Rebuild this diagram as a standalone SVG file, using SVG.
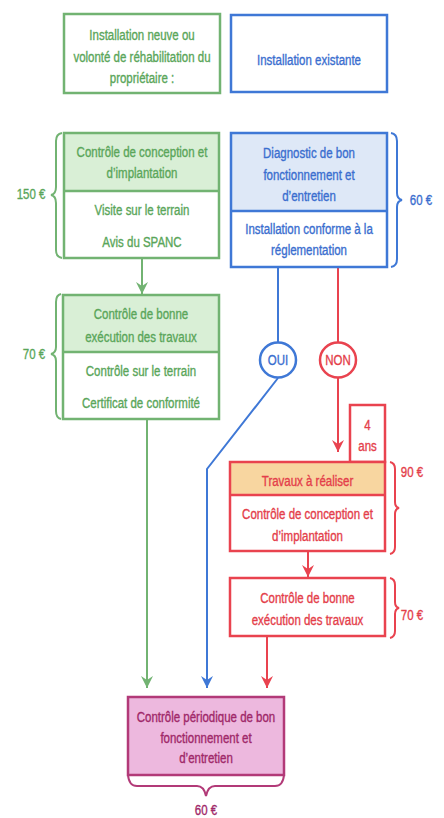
<svg xmlns="http://www.w3.org/2000/svg" width="444" height="818" viewBox="0 0 444 818">
<defs>
<style>
text{font-family:"Liberation Sans",Arial,sans-serif;font-size:14px;text-anchor:middle;stroke-width:0.35}
.g{fill:#5aa65a;stroke:#5aa65a}.b{fill:#3a6ecf;stroke:#3a6ecf}.r{fill:#e43e4a;stroke:#e43e4a}.p{fill:#a02869;stroke:#a02869}
.gs{stroke:#72b372;stroke-width:2.5;fill:none}
.bs{stroke:#3f78d6;stroke-width:2.5;fill:none}
.rs{stroke:#e9434f;stroke-width:2.5;fill:none}
.gl{stroke:#72b372;stroke-width:2;fill:none}
.bl{stroke:#3f78d6;stroke-width:2;fill:none}
.rl{stroke:#e9434f;stroke-width:2;fill:none}
.br{stroke-width:2;fill:none}
</style>
<marker id="ag" viewBox="0 0 12 12" refX="12" refY="6" markerWidth="12" markerHeight="12" markerUnits="userSpaceOnUse" orient="auto"><path d="M0,0 L12,6 L0,12 L4,6 z" fill="#72b372"/></marker>
<marker id="ab" viewBox="0 0 12 12" refX="12" refY="6" markerWidth="12" markerHeight="12" markerUnits="userSpaceOnUse" orient="auto"><path d="M0,0 L12,6 L0,12 L4,6 z" fill="#3f78d6"/></marker>
<marker id="ar" viewBox="0 0 12 12" refX="12" refY="6" markerWidth="12" markerHeight="12" markerUnits="userSpaceOnUse" orient="auto"><path d="M0,0 L12,6 L0,12 L4,6 z" fill="#e9434f"/></marker>
</defs>
<rect width="444" height="818" fill="#ffffff"/>

<g id="connectors">
<path class="gl" d="M142,258 V294" marker-end="url(#ag)"/>
<path class="gl" d="M147,419 V688" marker-end="url(#ag)"/>
<path class="bl" d="M278,267 V342"/>
<path class="bl" d="M278,378 L207,469 V688" marker-end="url(#ab)"/>
<path class="rl" d="M338,267 V342"/>
<path class="rl" d="M338,378 V452" marker-end="url(#ar)"/>
<path class="rl" d="M308,551 V577" marker-end="url(#ar)"/>
<path class="rl" d="M267,636 V688" marker-end="url(#ar)"/>
</g>

<g id="n-neuve">
<rect x="64" y="14" width="156" height="79" fill="#dbefd8" class="gs"/>
<g transform="translate(142,0) scale(0.82,1)">
<text class="g" x="0" y="40">Installation neuve ou</text>
<text class="g" x="0" y="62">volonté de réhabilitation du</text>
<text class="g" x="0" y="83">propriétaire :</text>
</g>
</g>

<g id="n-existante">
<rect x="231" y="15" width="156" height="77" fill="#dee8f7" class="bs"/>
<g transform="translate(309,0) scale(0.82,1)">
<text class="b" x="0" y="65">Installation existante</text>
</g>
</g>

<g id="n-conception">
<rect x="64" y="133" width="155" height="58" fill="#d9efd6"/>
<rect x="64" y="133" width="155" height="125" class="gs"/>
<line x1="64" y1="191" x2="219" y2="191" class="gs"/>
<g transform="translate(142,0) scale(0.82,1)">
<text class="g" x="0" y="157">Contrôle de conception et</text>
<text class="g" x="0" y="178">d’implantation</text>
<text class="g" x="0" y="215">Visite sur le terrain</text>
<text class="g" x="0" y="247">Avis du SPANC</text>
</g>
<path class="br" stroke="#72b372" d="M62,133 Q56,134 56,141 V187 Q56,194 51,195 Q56,196 56,203 V250 Q56,257 62,258"/>
<g transform="translate(31,0) scale(0.82,1)"><text class="g" x="0" y="199">150 €</text></g>
</g>

<g id="n-diagnostic">
<rect x="231" y="133" width="156" height="78" fill="#dee8f7"/>
<rect x="231" y="133" width="156" height="134" class="bs"/>
<line x1="231" y1="211" x2="387" y2="211" class="bs"/>
<g transform="translate(309,0) scale(0.82,1)">
<text class="b" x="0" y="158">Diagnostic de bon</text>
<text class="b" x="0" y="180">fonctionnement et</text>
<text class="b" x="0" y="201">d’entretien</text>
<text class="b" x="0" y="234">Installation conforme à la</text>
<text class="b" x="0" y="255">réglementation</text>
</g>
<path class="br" stroke="#3f78d6" d="M391,133 Q397,134 397,141 V193 Q397,199 402,200 Q397,201 397,207 V259 Q397,266 391,267"/>
<g transform="translate(421,0) scale(0.82,1)"><text class="b" x="0" y="205">60 €</text></g>
</g>

<g id="n-bonne-exec">
<rect x="63" y="295" width="156" height="57" fill="#d9efd6"/>
<rect x="63" y="295" width="156" height="124" class="gs"/>
<line x1="63" y1="352" x2="219" y2="352" class="gs"/>
<g transform="translate(141,0) scale(0.82,1)">
<text class="g" x="0" y="319">Contrôle de bonne</text>
<text class="g" x="0" y="342">exécution des travaux</text>
<text class="g" x="0" y="376">Contrôle sur le terrain</text>
<text class="g" x="0" y="408">Certificat de conformité</text>
</g>
<path class="br" stroke="#72b372" d="M61,294 Q56,295 56,302 V347 Q56,353 51,354 Q56,355 56,361 V411 Q56,418 61,419"/>
<g transform="translate(34,0) scale(0.82,1)"><text class="g" x="0" y="359">70 €</text></g>
</g>

<g id="n-oui">
<ellipse cx="278" cy="360" rx="18" ry="17.5" fill="#dee8f7" class="bs"/>
<g transform="translate(278,0) scale(0.82,1)"><text class="b" x="0" y="365">OUI</text></g>
</g>

<g id="n-non">
<ellipse cx="338" cy="360" rx="18" ry="17.5" fill="#f8d6a0" class="rs"/>
<g transform="translate(338,0) scale(0.82,1)"><text class="r" x="0" y="365">NON</text></g>
</g>

<g id="n-4ans">
<rect x="350" y="405" width="35" height="57" fill="#ffffff" class="rs"/>
<g transform="translate(367.5,0) scale(0.82,1)">
<text class="r" x="0" y="430">4</text>
<text class="r" x="0" y="451">ans</text>
</g>
</g>

<g id="n-travaux">
<rect x="230" y="462" width="155" height="33" fill="#f8d6a0"/>
<rect x="230" y="462" width="155" height="89" class="rs"/>
<line x1="230" y1="495" x2="385" y2="495" class="rs"/>
<g transform="translate(307.5,0) scale(0.82,1)">
<text class="r" x="0" y="486">Travaux à réaliser</text>
<text class="r" x="0" y="519">Contrôle de conception et</text>
<text class="r" x="0" y="541">d’implantation</text>
</g>
<path class="br" stroke="#e9434f" d="M390,462 Q395,463 395,469 V502 Q395,507 399,508 Q395,509 395,514 V547 Q395,553 390,554"/>
<g transform="translate(412,0) scale(0.82,1)"><text class="r" x="0" y="477">90 €</text></g>
</g>

<g id="n-bonne-exec-red">
<rect x="230" y="578" width="155" height="58" fill="#ffffff" class="rs"/>
<g transform="translate(307.5,0) scale(0.82,1)">
<text class="r" x="0" y="603">Contrôle de bonne</text>
<text class="r" x="0" y="625">exécution des travaux</text>
</g>
<path class="br" stroke="#e9434f" d="M390,578 Q395,579 395,585 V602 Q395,607 399,608 Q395,609 395,614 V631 Q395,637 390,638"/>
<g transform="translate(412,0) scale(0.82,1)"><text class="r" x="0" y="620">70 €</text></g>
</g>

<g id="n-periodique">
<rect x="128" y="697" width="156" height="78" fill="#edb8de" stroke="#b23a78" stroke-width="2.5"/>
<g transform="translate(206,0) scale(0.82,1)">
<text class="p" x="0" y="722">Contrôle périodique de bon</text>
<text class="p" x="0" y="743">fonctionnement et</text>
<text class="p" x="0" y="763">d’entretien</text>
</g>
<path class="br" stroke="#b23a78" d="M128,775 Q129,786 137,786 H197 Q204,786 206,796 Q208,786 215,786 H275 Q283,786 284,775"/>
<g transform="translate(206,0) scale(0.82,1)"><text class="p" x="0" y="815">60 €</text></g>
</g>
</svg>
